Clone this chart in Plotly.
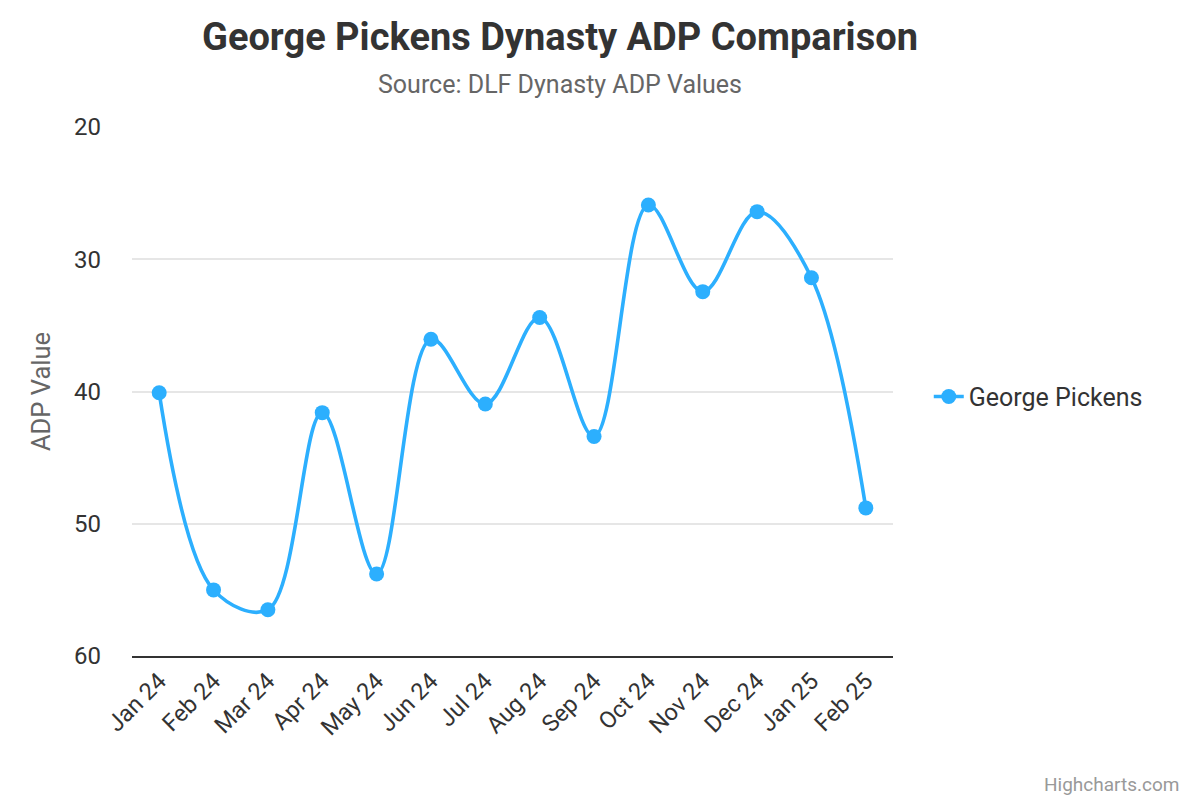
import plotly.graph_objects as go

months = ["Jan 24", "Feb 24", "Mar 24", "Apr 24", "May 24", "Jun 24", "Jul 24",
          "Aug 24", "Sep 24", "Oct 24", "Nov 24", "Dec 24", "Jan 25", "Feb 25"]
adp_values = [40.1, 55.0, 56.5, 41.6, 53.8, 36.05, 40.95, 34.4, 43.4, 25.9, 32.45, 26.4, 31.4, 48.8]
y_ticks = [20, 30, 40, 50, 60]

color = "#2caffe"
font = "Roboto, Inter, sans-serif"

fig = go.Figure()
fig.add_trace(go.Scatter(
    x=months, y=adp_values, mode="lines+markers", name="George Pickens",
    line=dict(color=color, width=3.6, shape="spline", smoothing=1.0),
    marker=dict(color=color, size=15),
))

fig.update_layout(
    width=1200, height=800,
    margin=dict(l=132, r=307, t=127, b=144),
    paper_bgcolor="white", plot_bgcolor="white",
    font=dict(family=font, color="#333333"),
    showlegend=True,
    legend=dict(x=1.047, y=0.49, xanchor="left", yanchor="middle",
                font=dict(size=25, color="#333333", family=font),
                itemwidth=30),
    xaxis=dict(
        type="category", range=[-0.5, len(months) - 0.5],
        tickangle=-45, tickfont=dict(size=23.5, color="#333333"),
        showgrid=False, showline=True, linecolor="#333333", linewidth=2,
        ticks="", zeroline=False,
    ),
    yaxis=dict(
        range=[60, 20], tickvals=y_ticks,
        tickfont=dict(size=24, color="#333333"),
        showgrid=True, gridcolor="#e6e6e6", gridwidth=1.5,
        zeroline=False, showline=False, ticks="",
        ticklabelstandoff=30,
        title=dict(text="ADP Value", font=dict(size=25.5, color="#666666"), standoff=16),
    ),
    annotations=[
        dict(text="<b>George Pickens Dynasty ADP Comparison</b>", xref="paper", yref="paper",
             x=(560 - 132) / 761, y=1 + (127 - 37) / 529, xanchor="center", yanchor="middle",
             showarrow=False, font=dict(size=38, color="#333333", family=font)),
        dict(text="Source: DLF Dynasty ADP Values", xref="paper", yref="paper",
             x=(560 - 132) / 761, y=1 + (127 - 85) / 529, xanchor="center", yanchor="middle",
             showarrow=False, font=dict(size=25, color="#666666", family=font)),
        dict(text="Highcharts.com", xref="paper", yref="paper",
             x=(1181 - 132) / 761, y=-(784 - 656) / 529, xanchor="right", yanchor="middle",
             showarrow=False, font=dict(size=19, color="#999999", family=font)),
    ],
)

fig.write_html("out.html")
